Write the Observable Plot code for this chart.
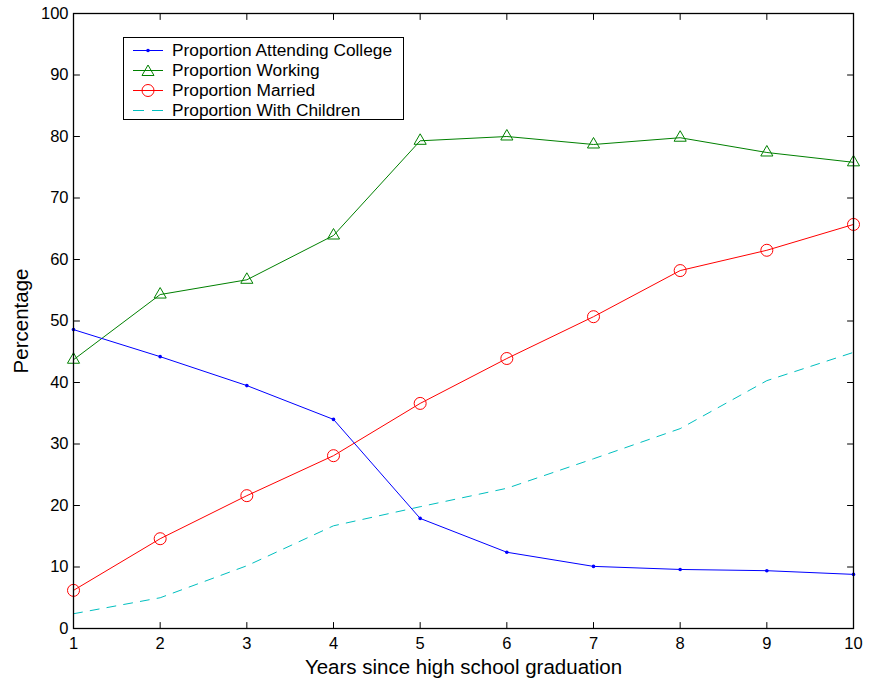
<!DOCTYPE html>
<html>
<head>
<meta charset="utf-8">
<script src="https://cdn.jsdelivr.net/npm/d3@7"></script>
<script src="https://cdn.jsdelivr.net/npm/@observablehq/plot@0.6"></script>
<style>
  body { margin: 0; background: #fff; }
  #wrap { position: relative; width: 869px; height: 683px; }
  #legend { position: absolute; left: 123px; top: 37px; width: 281px; height: 83px; border: 1px solid #000; background: #fff; font-family: "Liberation Sans", Arial, sans-serif; font-size: 17.3px; box-sizing: border-box; }
  .row { position: absolute; left: 0; height: 20px; display: flex; align-items: center; white-space: nowrap; }
  .row svg { margin-left: 9px; margin-right: 9px; }
</style>
</head>
<body>
<div id="wrap"></div>
<script>
const years = [1, 2, 3, 4, 5, 6, 7, 8, 9, 10];
const college  = [48.6, 44.2, 39.5, 34.0, 17.9, 12.4, 10.1, 9.6, 9.4, 8.8];
const working  = [43.7, 54.3, 56.7, 63.9, 79.3, 80.0, 78.7, 79.8, 77.4, 75.8];
const married  = [6.2, 14.6, 21.6, 28.1, 36.6, 43.9, 50.7, 58.2, 61.5, 65.7];
const children = [2.4, 5.0, 10.2, 16.7, 19.8, 22.8, 27.6, 32.5, 40.3, 44.9];
const xTicks = [1, 2, 3, 4, 5, 6, 7, 8, 9, 10];
const yTicks = [0, 10, 20, 30, 40, 50, 60, 70, 80, 90, 100];
const seriesNames = ["Proportion Attending College", "Proportion Working", "Proportion Married", "Proportion With Children"];
const colors = ["#0000ff", "#008000", "#ff0000", "#00bfbf"];

const rows = (vals) => years.map((y, i) => ({x: y, y: vals[i]}));
const dCollege = rows(college), dWorking = rows(working), dMarried = rows(married), dChildren = rows(children);

const tickShape = {draw(ctx, l) { ctx.moveTo(0, 0); ctx.lineTo(0, -l); }};
const tick = (data, ch, frameAnchor, rotate) => Plot.vector(data, {
  [ch]: d => d, frameAnchor, rotate, length: 6, anchor: "start", shape: tickShape, stroke: "#000", strokeWidth: 1
});

const chart = Plot.plot({
  width: 869,
  height: 683,
  marginLeft: 73,
  marginRight: 16,
  marginTop: 13,
  marginBottom: 55,
  style: {fontFamily: "'Liberation Sans', Arial, sans-serif", fontSize: "16.5px", color: "#000", background: "#fff"},
  x: {domain: [1, 10]},
  y: {domain: [0, 100]},
  marks: [
    Plot.axisX(xTicks, {anchor: "bottom", tickSize: 0, tickPadding: 9, tickFormat: d => String(d), label: "Years since high school graduation", labelArrow: "none", labelAnchor: "center", labelOffset: 45, fontSize: 16.5}),
    Plot.axisY(yTicks, {anchor: "left", tickSize: 0, tickPadding: 5, tickFormat: d => String(d), label: "Percentage", labelArrow: "none", labelAnchor: "center", labelOffset: 60, fontSize: 16.5}),
    tick(xTicks, "x", "bottom", 0),
    tick(xTicks, "x", "top", 180),
    tick(yTicks, "y", "left", 90),
    tick(yTicks, "y", "right", -90),
    Plot.line(dChildren, {x: "x", y: "y", stroke: colors[3], strokeWidth: 1, strokeDasharray: "9,8"}),
    Plot.line(dMarried, {x: "x", y: "y", stroke: colors[2], strokeWidth: 1}),
    Plot.dot(dMarried, {x: "x", y: "y", stroke: colors[2], fill: "none", r: 6, strokeWidth: 1}),
    Plot.line(dWorking, {x: "x", y: "y", stroke: colors[1], strokeWidth: 1}),
    Plot.dot(dWorking, {x: "x", y: "y", stroke: colors[1], fill: "none", r: 4.5, symbol: "triangle", strokeWidth: 1}),
    Plot.line(dCollege, {x: "x", y: "y", stroke: colors[0], strokeWidth: 1}),
    Plot.dot(dCollege, {x: "x", y: "y", fill: colors[0], stroke: "none", r: 1.8}),
    Plot.frame({stroke: "#000", strokeWidth: 1.3})
  ]
});
// Axis label font size, strip any arrows
d3.select(chart).selectAll("[aria-label='x-axis label'] text, [aria-label='y-axis label'] text")
  .style("font-size", "20.5px")
  .each(function() { this.textContent = this.textContent.replace(/\s*[→↑←↓]\s*/g, ""); });

const wrap = document.getElementById("wrap");
wrap.appendChild(chart);

// Legend
const legend = document.createElement("div");
legend.id = "legend";
const swatches = [
  `<line x1="0" y1="6.5" x2="30" y2="6.5" stroke="${colors[0]}"/><circle cx="15" cy="6.5" r="1.8" fill="${colors[0]}"/>`,
  `<line x1="0" y1="6.5" x2="30" y2="6.5" stroke="${colors[1]}"/><path d="M15,1 L21,11.5 L9,11.5 Z" fill="none" stroke="${colors[1]}"/>`,
  `<line x1="0" y1="6.5" x2="30" y2="6.5" stroke="${colors[2]}"/><circle cx="15" cy="6.5" r="6" fill="none" stroke="${colors[2]}"/>`,
  `<line x1="0" y1="6.5" x2="30" y2="6.5" stroke="${colors[3]}" stroke-dasharray="11,8"/>`
];
seriesNames.forEach((name, i) => {
  const r = document.createElement("div");
  r.className = "row";
  r.style.top = (2 + i * 20.3) + "px";
  r.innerHTML = `<svg width="30" height="13">${swatches[i]}</svg><span>${name}</span>`;
  legend.appendChild(r);
});
wrap.appendChild(legend);
</script>
</body>
</html>
